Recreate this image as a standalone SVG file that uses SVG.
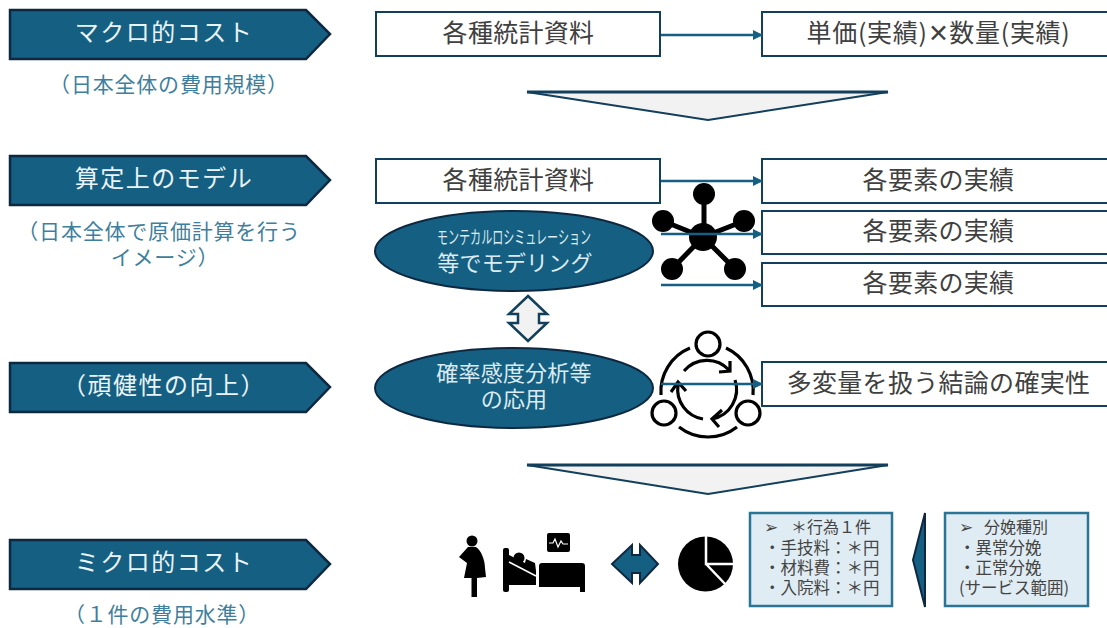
<svg xmlns="http://www.w3.org/2000/svg" width="1107" height="628" viewBox="0 0 1107 628">
<style>
text{font-family:"Noto Sans CJK JP","Liberation Sans",sans-serif;text-anchor:middle}
.tag{fill:#156082;stroke:#0e2841;stroke-width:2.5}
.tagt{fill:#eaf3f7;font-size:24px;letter-spacing:1.5px}
.sub{fill:#3f7f9d;font-size:21px;letter-spacing:.8px}
.box{fill:#fff;stroke:#123f5c;stroke-width:2}
.boxt{fill:#404040;font-size:25px;letter-spacing:.3px}
.ell{fill:#156082;stroke:#0e2841;stroke-width:2}
.ellt{fill:#dcebf1;font-size:22px;letter-spacing:.2px}
.tri{fill:#f2f2f2;stroke:#123f5c;stroke-width:2}
.lbox{fill:#dfecf3;stroke:#2a7596;stroke-width:2.5}
.lt{fill:#444;font-size:16.5px;text-anchor:start}
.conn{stroke:#156082;stroke-width:2.5;fill:none;marker-end:url(#ah)}
.ico{fill:none;stroke:#000;stroke-width:3.2}
</style>
<defs><marker id="ah" markerUnits="userSpaceOnUse" markerWidth="10" markerHeight="10" refX="9" refY="5" orient="auto"><path d="M0 0L10 5L0 10z" fill="#156082"/></marker></defs>
<g id="tag-macro"><path class="tag" d="M10 10H306L330 34L306 59H10z"/><text class="tagt" x="164" y="41">マクロ的コスト</text><text class="sub" x="169" y="92">（日本全体の費用規模）</text></g>
<g id="tag-model"><path class="tag" d="M10 156H306L330 180L306 205H10z"/><text class="tagt" x="164" y="187">算定上のモデル</text><text class="sub" x="159" y="239">（日本全体で原価計算を行う</text><text class="sub" x="165" y="265">イメージ）</text></g>
<g id="tag-robust"><path class="tag" d="M10 363H306L330 387L306 412H10z"/><text class="tagt" x="164" y="394">（頑健性の向上）</text></g>
<g id="tag-micro"><path class="tag" d="M10 540H306L330 564L306 589H10z"/><text class="tagt" x="164" y="571">ミクロ的コスト</text><text class="sub" x="162" y="622">（１件の費用水準）</text></g>
<g id="stat1"><rect class="box" x="376" y="12" width="284" height="44"/><text class="boxt" x="518.5" y="42">各種統計資料</text></g>
<g id="unit"><rect class="box" x="762" y="12" width="350" height="44"/><text class="boxt" x="938.5" y="42" style="letter-spacing:.7px">単価(実績)✕数量(実績)</text></g>
<g id="stat2"><rect class="box" x="376" y="159" width="284" height="44"/><text class="boxt" x="518.5" y="189">各種統計資料</text></g>
<g id="e1"><rect class="box" x="762" y="159" width="350" height="44"/><text class="boxt" x="938.5" y="189">各要素の実績</text></g>
<g id="e2"><rect class="box" x="762" y="211" width="350" height="43"/><text class="boxt" x="938.5" y="240">各要素の実績</text></g>
<g id="e3"><rect class="box" x="762" y="263" width="350" height="43"/><text class="boxt" x="938.5" y="292">各要素の実績</text></g>
<g id="multi"><rect class="box" x="762" y="362" width="350" height="44"/><text class="boxt" x="938.5" y="392">多変量を扱う結論の確実性</text></g>
<g id="tri1"><path class="tri" d="M527 92H888L708 120z"/><path d="M527 92H888" stroke="#123f5c" stroke-width="3"/></g>
<g id="tri2"><path class="tri" d="M527 465H888L708 494z"/><path d="M527 465H888" stroke="#123f5c" stroke-width="3"/></g>
<g id="ell1"><ellipse class="ell" cx="514" cy="251" rx="139" ry="40"/><text class="ellt" x="514" y="244" style="font-size:18px;letter-spacing:0" textLength="154" lengthAdjust="spacingAndGlyphs">モンテカルロシミュレーション</text><text class="ellt" x="515" y="271">等でモデリング</text></g>
<g id="ell2"><ellipse class="ell" cx="514" cy="388" rx="139" ry="40"/><text class="ellt" x="514" y="381">確率感度分析等</text><text class="ellt" x="514" y="407">の応用</text></g>
<g id="vdbl"><path d="M528 296L547 314H539V323H547L528 341L509 323H518V314H509z" fill="#f2f2f2" stroke="#123f5c" stroke-width="2.5"/></g>
<g id="molecule" fill="#000"><path d="M704 194V237M663 221L703 237L744 221M672 269L703 237L735 269" stroke="#000" stroke-width="5" fill="none"/><circle cx="703" cy="237" r="14"/><circle cx="704" cy="194" r="11"/><circle cx="663" cy="221" r="11"/><circle cx="744" cy="221" r="11"/><circle cx="672" cy="269" r="11"/><circle cx="735" cy="269" r="11"/></g>
<g id="cycle"><circle class="ico" cx="708" cy="344" r="12"/><circle class="ico" cx="664" cy="413" r="12"/><circle class="ico" cx="748" cy="413" r="12"/>
<path class="ico" d="M690 348A47 47 0 0 0 661 395M726 348A47 47 0 0 1 753 395M679 427A47 47 0 0 0 737 427M684 371A30 30 0 0 1 729 370M719 372L730 371L730 361M735 380A30 30 0 0 1 712 419M722 410L712 419L719 427M703 419A30 30 0 0 1 678 385M671 392L678 382L686 391"/></g>
<g id="connectors"><path class="conn" d="M661 35H762"/><path class="conn" d="M661 181H762"/><path class="conn" d="M661 234H762"/><path class="conn" d="M661 285H762"/><path class="conn" d="M661 384H762"/></g>
<g id="person" fill="#000"><circle cx="472" cy="541" r="5.5"/><path d="M468 547H476C481 550 485 560 485 568L486 577L477 578V597H471.5V578L464 578L467 563L459 557z"/></g>
<g id="bed" fill="#000"><rect x="503" y="548" width="6" height="44" rx="2"/><circle cx="519" cy="558" r="5.5"/><path d="M509 555L525 563L526 559L535 563L536 571V585H509z"/><path d="M509 562L536 576" stroke="#fff" stroke-width="1.5"/><path d="M539 566Q539 563 542 563H582Q585 563 585 566V592H580V587H539z"/><rect x="547" y="533" width="23" height="19" rx="2"/><path d="M549 543H553L555 539L558 547L561 541L563 544H568" stroke="#fff" stroke-width="1.2" fill="none"/></g>
<g id="hdbl"><path d="M612 564L632 545V555H640V545L658 564L640 583V573H632V583z" fill="#156082" stroke="#0e2841" stroke-width="2"/></g>
<g id="pie"><circle cx="705.5" cy="564" r="27.5" fill="#000"/><path d="M706 535V564H735M706 564L728 587" stroke="#fff" stroke-width="2.5" fill="none"/></g>
<g id="larrow"><path d="M925 513L913 560L925 607z" fill="#156082" stroke="#0e2841" stroke-width="2"/></g>
<g id="act"><rect class="lbox" x="750" y="513" width="142" height="93"/><text class="lt" x="764" y="533">➢</text><text class="lt" x="791" y="533" style="font-size:16px">＊行為１件</text><text class="lt" x="764" y="554">・手技料：＊円</text><text class="lt" x="764" y="574">・材料費：＊円</text><text class="lt" x="764" y="594">・入院料：＊円</text></g>
<g id="kind"><rect class="lbox" x="945" y="513" width="143" height="93"/><text class="lt" x="959" y="533">➢</text><text class="lt" x="984" y="533" style="font-size:16px">分娩種別</text><text class="lt" x="959" y="554">・異常分娩</text><text class="lt" x="959" y="574">・正常分娩</text><text class="lt" x="959" y="594">(サービス範囲)</text></g>
</svg>
